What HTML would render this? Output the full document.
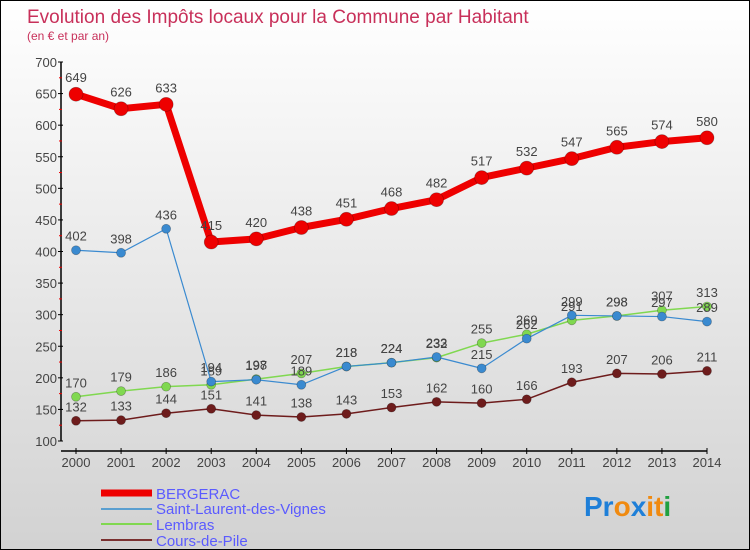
<!DOCTYPE html>
<html><head><meta charset="utf-8"><style>
body{margin:0}
#c{width:750px;height:550px;position:relative;background:linear-gradient(#ffffff,#d2d2d2);box-sizing:border-box;border:1px solid #000;overflow:hidden;font-family:"Liberation Sans",sans-serif}
</style></head><body>
<div id="c">
<svg id="s" width="750" height="550" style="position:absolute;left:0;top:0">
<text x="26" y="22" font-size="19" fill="#c8305a">Evolution des Impôts locaux pour la Commune par Habitant</text>
<text x="26" y="39" font-size="12" fill="#c8305a">(en € et par an)</text>
<g id="axes"></g><g id="series"></g>
<g font-size="15" fill="#5b5bff">
<line x1="100" y1="492" x2="151" y2="492" stroke="#e00" stroke-width="7"/><text x="155" y="498">BERGERAC</text>
<line x1="100" y1="508" x2="151" y2="508" stroke="#5a9fd0" stroke-width="2"/><text x="155" y="513">Saint-Laurent-des-Vignes</text>
<line x1="100" y1="523" x2="151" y2="523" stroke="#80d850" stroke-width="2"/><text x="155" y="529">Lembras</text>
<line x1="100" y1="539" x2="151" y2="539" stroke="#7a3030" stroke-width="2"/><text x="155" y="545">Cours-de-Pile</text>
</g>
<text x="583" y="515" font-size="28" font-weight="bold"><tspan fill="#1e7fd8">Pr</tspan><tspan fill="#f08a10">o</tspan><tspan fill="#1e7fd8">x</tspan><tspan fill="#f08a10">i</tspan><tspan fill="#f08a10">t</tspan><tspan fill="#20a040">i</tspan></text>
</svg>
</div>
<script>
const years=[2000,2001,2002,2003,2004,2005,2006,2007,2008,2009,2010,2011,2012,2013,2014];
const bergerac=[649,626,633,415,420,438,451,468,482,517,532,547,565,574,580];
const saintLaurent=[402,398,436,194,197,189,218,224,233,215,262,299,298,297,289];
const lembras=[170,179,186,189,198,207,218,224,232,255,269,291,298,307,313];
const cours=[132,133,144,151,141,138,143,153,162,160,166,193,207,206,211];
const yTicks=[100,150,200,250,300,350,400,450,500,550,600,650,700];
const NS="http://www.w3.org/2000/svg";
const X=i=>75+i*(706-75)/14;
const Y=v=>440-(v-100)*(379/600);
function mk(tag,attrs,parent,text){const e=document.createElementNS(NS,tag);for(const k in attrs)e.setAttribute(k,attrs[k]);if(text!==undefined)e.textContent=text;parent.appendChild(e);return e;}
const ax=document.getElementById('axes');
const ya=mk('line',{x1:60,y1:Y(700),x2:60,y2:Y(100),stroke:'#000','stroke-width':1.5},ax);


yTicks.forEach(t=>{
 mk('line',{x1:57,y1:Y(t),x2:62,y2:Y(t),stroke:'#000'},ax);
 const tl=mk('text',{x:56,y:Y(t)+5,'font-size':13,'text-anchor':'end',fill:'#444'},ax,t);
 
 
 if(t<700)mk('line',{x1:58,y1:Y(t+25),x2:61,y2:Y(t+25),stroke:'#e00'},ax);
});
const xa=mk('line',{x1:60,y1:450,x2:706,y2:450,stroke:'#000','stroke-width':1.5},ax);


years.forEach((yr,i)=>{
 mk('line',{x1:X(i),y1:447,x2:X(i),y2:453,stroke:'#000'},ax);
 const tl=mk('text',{x:X(i),y:466,'font-size':13,'text-anchor':'middle',fill:'#444'},ax,yr);
 
 
});
const sg=document.getElementById('series');
function series(name,vals,color,w,r){
 const g=mk('g',{},sg);
 
 
 const p=mk('polyline',{points:vals.map((v,i)=>X(i)+','+Y(v)).join(' '),fill:'none',stroke:color,'stroke-width':w,'stroke-linejoin':'round'},g);
 
 
 vals.forEach((v,i)=>{
  const c=mk('circle',{cx:X(i),cy:Y(v),r:r,fill:color,stroke:'rgba(0,0,0,0.3)','stroke-width':0.7},g);
  
  
  const t=mk('text',{x:X(i),y:Y(v)-r-5,'font-size':13,'text-anchor':'middle',fill:'#444'},g,v);
  
  
 });
}
series('cours-de-pile',cours,'#6e1c1c',1.5,4.5);
series('lembras',lembras,'#80d850',1.5,4.5);
series('saint-laurent',saintLaurent,'#3a8ad0',1.2,4.5);
series('bergerac',bergerac,'#ee0000',7,7);
</script>
</body></html>
